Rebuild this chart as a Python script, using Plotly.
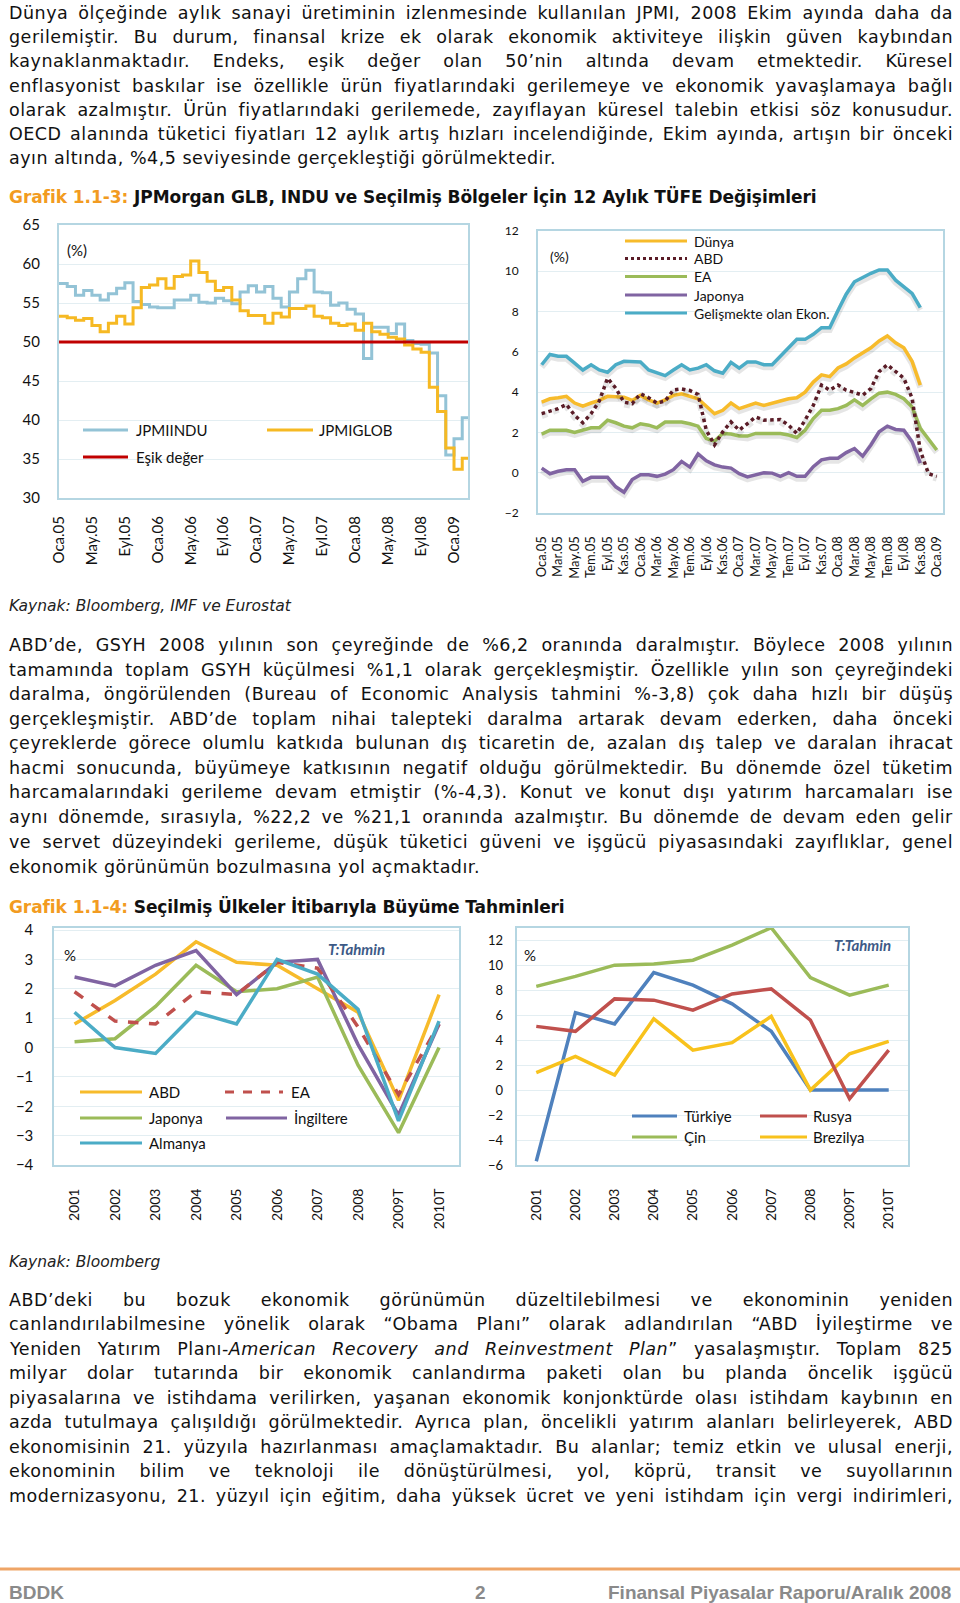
import json
import plotly.graph_objects as go

W, H = 960, 1603


def px(x):
    return x / W


def py(y):
    return 1 - y / H


# ---------------- Chart 1: JPMI (monthly, Oca.05 .. Şub.09) ----------------
jpmi_months = list(range(50))
jpmiindu = [57.5, 57.1, 56.0, 56.6, 56.0, 55.4, 56.2, 56.9, 57.6, 55.2,
            54.8, 54.5, 54.4, 54.4, 55.4, 55.4, 56.0, 55.1, 55.0, 55.6,
            55.3, 54.9, 56.4, 57.2, 56.4, 57.1, 55.6, 54.5, 56.4, 58.1,
            59.2, 56.4, 56.3, 54.7, 55.0, 54.2, 53.6, 47.9, 51.9, 51.9,
            51.1, 52.3, 50.2, 49.8, 49.7, 48.6, 43.1, 35.5, 37.6, 40.3]
jpmiglob = [53.3, 53.1, 52.8, 53.0, 52.1, 51.3, 52.4, 53.3, 52.3, 54.4,
            57.0, 57.3, 58.1, 56.9, 58.4, 58.6, 60.4, 58.9, 57.8, 56.6,
            57.0, 55.4, 54.0, 53.4, 53.4, 52.4, 53.7, 53.2, 54.3, 54.3,
            54.6, 53.3, 53.1, 52.4, 52.1, 52.3, 51.5, 52.4, 51.3, 51.0,
            50.6, 50.4, 49.6, 49.1, 48.7, 44.2, 41.1, 36.4, 33.7, 35.1]
esik_deger = 50
jpmi_x_end = 49.7
jpmi_tickvals = list(range(0, 49, 4))
jpmi_ticktext = ["Oca.05", "May.05", "Eyl.05", "Oca.06", "May.06", "Eyl.06",
                 "Oca.07", "May.07", "Eyl.07", "Oca.08", "May.08", "Eyl.08",
                 "Oca.09"]

# ---------------- Chart 2: 12 aylık TÜFE (monthly, Oca.05 .. Oca.09) --------
cpi_months = list(range(49))
cpi_dunya = [3.51, 3.67, 3.72, 3.79, 3.46, 3.30, 3.46, 3.59, 3.79, 3.79,
             3.75, 3.59, 3.84, 3.62, 3.46, 3.62, 3.84, 3.92, 3.79, 3.67,
             3.30, 2.93, 3.10, 3.46, 3.18, 3.34, 3.46, 3.34, 3.43, 3.56,
             3.67, 3.72, 4.00, 4.50, 4.86, 4.77, 5.20, 5.40, 5.70, 5.95,
             6.20, 6.54, 6.79, 6.45, 6.20, 5.53, 4.35]
cpi_abd = [2.93, 3.07, 3.18, 3.39, 2.85, 2.48, 2.93, 3.56, 4.69, 4.20,
           3.50, 3.43, 3.92, 3.72, 3.46, 3.56, 4.11, 4.16, 4.08, 3.89,
           2.11, 1.38, 2.03, 2.52, 2.11, 2.44, 2.77, 2.61, 2.64, 2.64,
           2.36, 1.95, 2.61, 3.34, 4.35, 4.10, 4.35, 4.10, 3.98, 3.85,
           4.18, 5.02, 5.36, 5.02, 4.69, 3.70, 1.10, -0.05, -0.18]
cpi_ea = [1.92, 2.11, 2.11, 2.11, 2.00, 2.11, 2.23, 2.23, 2.61, 2.48,
          2.31, 2.23, 2.43, 2.36, 2.23, 2.52, 2.52, 2.52, 2.43, 2.31,
          1.70, 1.57, 1.95, 1.92, 1.82, 1.82, 1.95, 1.95, 1.95, 1.95,
          1.87, 1.75, 2.11, 2.69, 3.10, 3.10, 3.18, 3.34, 3.62, 3.34,
          3.67, 3.95, 4.00, 3.89, 3.67, 3.26, 2.20, 1.66, 1.13]
cpi_japonya = [0.23, -0.05, 0.07, 0.15, 0.15, -0.43, -0.23, -0.23, -0.23, -0.70,
               -0.97, -0.34, -0.10, -0.10, -0.18, -0.07, 0.15, 0.56, 0.28, 0.93,
               0.59, 0.39, 0.28, 0.23, -0.05, -0.21, -0.10, 0.00, -0.02, -0.18,
               0.00, -0.18, -0.18, 0.30, 0.64, 0.72, 0.72, 1.00, 1.20, 0.82,
               1.38, 2.03, 2.31, 2.15, 2.11, 1.54, 0.48]
cpi_gelismekte = [5.36, 5.87, 5.78, 5.78, 5.44, 5.10, 5.36, 5.10, 4.99, 5.36,
                  5.53, 5.53, 5.50, 5.10, 4.94, 4.82, 5.10, 5.36, 5.10, 5.19,
                  5.36, 5.06, 4.94, 5.48, 5.19, 5.50, 5.50, 5.36, 5.36, 5.78,
                  6.20, 6.62, 6.62, 6.87, 7.20, 7.20, 8.05, 8.86, 9.48, 9.70,
                  9.90, 10.07, 10.07, 9.56, 9.23, 8.90, 8.20]
cpi_tickvals = list(range(0, 49, 2))
cpi_ticktext = ["Oca.05", "Mar.05", "May.05", "Tem.05", "Eyl.05", "Kas.05",
                "Oca.06", "Mar.06", "May.06", "Tem.06", "Eyl.06", "Kas.06",
                "Oca.07", "Mar.07", "May.07", "Tem.07", "Eyl.07", "Kas.07",
                "Oca.08", "Mar.08", "May.08", "Tem.08", "Eyl.08", "Kas.08",
                "Oca.09"]

# ---------------- Chart 3 & 4: Büyüme tahminleri ----------------
years = ["2001", "2002", "2003", "2004", "2005", "2006", "2007", "2008",
         "2009T", "2010T"]
g_abd = [0.8, 1.6, 2.5, 3.6, 2.9, 2.8, 2.0, 1.2, -1.8, 1.8]
g_ea = [1.9, 0.9, 0.8, 1.9, 1.8, 2.9, 2.7, 0.7, -1.6, 0.8]
g_japonya = [0.2, 0.3, 1.4, 2.8, 1.9, 2.0, 2.4, -0.6, -2.9, 0.0]
g_ingiltere = [2.4, 2.1, 2.8, 3.3, 1.8, 2.9, 3.0, 0.1, -2.3, 0.8]
g_almanya = [1.2, 0.0, -0.2, 1.2, 0.8, 3.0, 2.5, 1.3, -2.5, 0.9]

g_turkiye = [-5.7, 6.2, 5.3, 9.4, 8.4, 6.9, 4.7, 0.0, 0.0, 0.0]
g_rusya = [5.1, 4.7, 7.3, 7.2, 6.4, 7.7, 8.1, 5.6, -0.7, 3.2]
g_cin = [8.3, 9.1, 10.0, 10.1, 10.4, 11.6, 13.0, 9.0, 7.6, 8.4]
g_brezilya = [1.4, 2.7, 1.2, 5.7, 3.2, 3.8, 5.9, 0.0, 2.9, 3.9]

# ---------------- Colours ----------------
C_INDU = "#93C3D6"
C_GLOB = "#F6B923"
C_RED = "#C00000"
C_YEL = "#F7BB2B"
C_DOT = "#5A1C27"
C_GRN = "#9BBB59"
C_PUR = "#8064A2"
C_TEAL = "#4BACC6"
C_EA3 = "#C0504D"
C_BLUE = "#4F81BD"
C_RUS = "#C0504D"
C_BRZ = "#F8C21C"
BORDER = "#B5D6E2"
GRID = "#E3EEF2"
ORANGE = "#F29B21"

CHART_FONT = "Lato, Open Sans, sans-serif"
BODY_FONT = "DejaVu Sans, sans-serif"

fig = go.Figure()

fig.add_trace(go.Scatter(x=jpmi_months + [jpmi_x_end], y=jpmiindu + [jpmiindu[-1]],
                         mode="lines", line=dict(color=C_INDU, width=3, shape="hv"),
                         xaxis="x", yaxis="y", name="JPMIINDU"))
fig.add_trace(go.Scatter(x=jpmi_months + [jpmi_x_end], y=jpmiglob + [jpmiglob[-1]],
                         mode="lines", line=dict(color=C_GLOB, width=3, shape="hv"),
                         xaxis="x", yaxis="y", name="JPMIGLOB"))
fig.add_trace(go.Scatter(x=[jpmi_months[0], jpmi_x_end], y=[esik_deger, esik_deger],
                         mode="lines", line=dict(color=C_RED, width=3),
                         xaxis="x", yaxis="y", name="Eşik değer"))

for yv, col, dash, nm in [
    (cpi_gelismekte, C_TEAL, "solid", "Gelişmekte olan Ekon."),
    (cpi_dunya, C_YEL, "solid", "Dünya"),
    (cpi_ea, C_GRN, "solid", "EA"),
    (cpi_abd, C_DOT, "dot", "ABD"),
    (cpi_japonya, C_PUR, "solid", "Japonya"),
]:
    xs = cpi_months[:len(yv)]
    fig.add_trace(go.Scatter(x=xs, y=[v - 0.12 for v in yv], mode="lines",
                             line=dict(color="rgba(0,0,0,0.10)", width=6, dash=dash),
                             xaxis="x2", yaxis="y2", hoverinfo="skip"))
    fig.add_trace(go.Scatter(x=xs, y=yv, mode="lines",
                             line=dict(color=col, width=3.5, dash=dash),
                             xaxis="x2", yaxis="y2", name=nm))

for yv, col, dash, nm in [
    (g_abd, C_YEL, "solid", "ABD"),
    (g_japonya, C_GRN, "solid", "Japonya"),
    (g_ingiltere, C_PUR, "solid", "İngiltere"),
    (g_ea, C_EA3, "dash", "EA"),
    (g_almanya, C_TEAL, "solid", "Almanya"),
]:
    fig.add_trace(go.Scatter(x=years, y=yv, mode="lines",
                             line=dict(color=col, width=3.5, dash=dash),
                             xaxis="x3", yaxis="y3", name=nm))

for yv, col, nm in [
    (g_cin, C_GRN, "Çin"),
    (g_turkiye, C_BLUE, "Türkiye"),
    (g_brezilya, C_BRZ, "Brezilya"),
    (g_rusya, C_RUS, "Rusya"),
]:
    fig.add_trace(go.Scatter(x=years, y=yv, mode="lines",
                             line=dict(color=col, width=3.5),
                             xaxis="x4", yaxis="y4", name=nm))


def xax(x0, x1, anchor, rng, standoff, size, **kw):
    d = dict(domain=[px(x0), px(x1)], anchor=anchor, range=rng,
             showgrid=False, zeroline=False, showline=True, linecolor=BORDER,
             linewidth=2, mirror=True, ticks="outside", ticklen=standoff,
             tickcolor="rgba(0,0,0,0)", tickangle=-90, automargin=False,
             tickfont=dict(family=CHART_FONT, size=size, color="#111"),
             fixedrange=True)
    d.update(kw)
    return d


def yax(y0, y1, anchor, rng, dtick, tick0, standoff, size):
    return dict(domain=[py(y1), py(y0)], anchor=anchor, range=rng,
                dtick=dtick, tick0=tick0, showgrid=True, gridcolor=GRID,
                gridwidth=1, zeroline=False, showline=True, linecolor=BORDER,
                linewidth=2, mirror=True, ticks="outside", ticklen=standoff,
                tickcolor="rgba(0,0,0,0)", automargin=False,
                tickfont=dict(family=CHART_FONT, size=size, color="#111"),
                fixedrange=True)


fig.update_layout(
    width=W, height=H,
    margin=dict(l=0, r=0, t=0, b=0, pad=0, autoexpand=False),
    paper_bgcolor="white", plot_bgcolor="white", showlegend=False,
    font=dict(family=CHART_FONT, color="#111"),
    xaxis=xax(59, 468, "y", [0, jpmi_x_end], 10, 15,
              tickmode="array", tickvals=jpmi_tickvals, ticktext=jpmi_ticktext),
    yaxis=yax(225, 498, "x", [30, 65], 5, 30, 14, 15),
    xaxis2=xax(538, 943, "y2", [-0.45, 48.76], 16, 13,
               tickmode="array", tickvals=cpi_tickvals, ticktext=cpi_ticktext),
    yaxis2=yax(231, 513, "x2", [-2, 12], 2, 0, 15, 12),
    xaxis3=xax(54.3, 459.3, "y3", [-0.5, 9.5], 16, 14, type="category"),
    yaxis3=yax(928, 1165, "x3", [-4, 4.07], 1, 0, 16, 15),
    xaxis4=xax(516.7, 908.3, "y4", [-0.5, 9.5], 16, 14, type="category"),
    yaxis4=yax(927.7, 1165, "x4", [-6, 13], 2, 0, 9, 13),
)

annotations = []
justify = {}
spread = {}


def text(x, y, s, size=15, color="#111", family=CHART_FONT, xanchor="left",
         just=None, ls=None):
    idx = len(annotations)
    annotations.append(dict(x=px(x), y=py(y), xref="paper", yref="paper",
                            text=s, showarrow=False, xanchor=xanchor,
                            yanchor="middle", align=xanchor if xanchor != "center" else "center",
                            font=dict(size=size, color=color, family=family)))
    if just:
        justify[str(idx)] = just
    if ls:
        spread[str(idx)] = ls


shapes = []


def leg_line(x0, x1, y, color, dash="solid", width=3):
    shapes.append(dict(type="line", xref="paper", yref="paper",
                       x0=px(x0), x1=px(x1), y0=py(y), y1=py(y),
                       line=dict(color=color, width=width, dash=dash)))


para1 = [
    "Dünya ölçeğinde aylık sanayi üretiminin izlenmesinde kullanılan JPMI, 2008 Ekim ayında daha da",
    "gerilemiştir. Bu durum, finansal krize ek olarak ekonomik aktiviteye ilişkin güven kaybından",
    "kaynaklanmaktadır. Endeks, eşik değer olan 50’nin altında devam etmektedir. Küresel",
    "enflasyonist baskılar ise özellikle ürün fiyatlarındaki gerilemeye ve ekonomik yavaşlamaya bağlı",
    "olarak azalmıştır. Ürün fiyatlarındaki gerilemede, zayıflayan küresel talebin etkisi söz konusudur.",
    "OECD alanında tüketici fiyatları 12 aylık artış hızları incelendiğinde, Ekim ayında, artışın bir önceki",
    "ayın altında, %4,5 seviyesinde gerçekleştiği görülmektedir.",
]
para1_y = [12.5, 37, 61.5, 85.5, 110, 134.5, 158.5]

para2 = [
    "ABD’de, GSYH 2008 yılının son çeyreğinde de %6,2 oranında daralmıştır. Böylece 2008 yılının",
    "tamamında toplam GSYH küçülmesi %1,1 olarak gerçekleşmiştir. Özellikle yılın son çeyreğindeki",
    "daralma, öngörülenden (Bureau of Economic Analysis tahmini %-3,8) çok daha hızlı bir düşüş",
    "gerçekleşmiştir. ABD’de toplam nihai talepteki daralma artarak devam ederken, daha önceki",
    "çeyreklerde görece olumlu katkıda bulunan dış ticaretin de, azalan dış talep ve daralan ihracat",
    "hacmi sonucunda, büyümeye katkısının negatif olduğu görülmektedir. Bu dönemde özel tüketim",
    "harcamalarındaki gerileme devam etmiştir (%-4,3). Konut ve konut dışı yatırım harcamaları ise",
    "aynı dönemde, sırasıyla, %22,2 ve %21,1 oranında azalmıştır. Bu dönemde de devam eden gelir",
    "ve servet düzeyindeki gerileme, düşük tüketici güveni ve işgücü piyasasındaki zayıflıklar, genel",
    "ekonomik görünümün bozulmasına yol açmaktadır.",
]
para2_y = [645, 669.5, 694, 718.5, 743, 767.5, 792, 817, 842, 866.5]

para3 = [
    "ABD’deki bu bozuk ekonomik görünümün düzeltilebilmesi ve ekonominin yeniden",
    "canlandırılabilmesine yönelik olarak “Obama Planı” olarak adlandırılan “ABD İyileştirme ve",
    "Yeniden Yatırım Planı-<i>American Recovery and Reinvestment Plan</i>” yasalaşmıştır. Toplam 825",
    "milyar dolar tutarında bir ekonomik canlandırma paketi olan bu planda öncelik işgücü",
    "piyasalarına ve istihdama verilirken, yaşanan ekonomik konjonktürde olası istihdam kaybının en",
    "azda tutulmaya çalışıldığı görülmektedir. Ayrıca plan, öncelikli yatırım alanları belirleyerek, ABD",
    "ekonomisinin 21. yüzyıla hazırlanması amaçlamaktadır. Bu alanlar; temiz etkin ve ulusal enerji,",
    "ekonominin bilim ve teknoloji ile dönüştürülmesi, yol, köprü, transit ve suyollarının",
    "modernizasyonu, 21. yüzyıl için eğitim, daha yüksek ücret ve yeni istihdam için vergi indirimleri,",
]
para3_y = [1299.5, 1324, 1348.5, 1373, 1397.5, 1422, 1446.5, 1471, 1495.5]

BODY_SIZE = 17.5
BODY_LS = 0.5
LINE_W = 944
for lines, ys in [(para1, para1_y), (para2, para2_y)]:
    for i, (s, y) in enumerate(zip(lines, ys)):
        text(7, y, s, size=BODY_SIZE, color="#111111", family=BODY_FONT,
             just=LINE_W if i < len(lines) - 1 else None, ls=BODY_LS)
for s, y in zip(para3, para3_y):
    text(7, y, s, size=BODY_SIZE, color="#111111", family=BODY_FONT,
         just=LINE_W, ls=BODY_LS)

text(7, 197, "<b><span style='color:%s'>Grafik 1.1-3:</span> JPMorgan GLB, INDU ve Seçilmiş Bölgeler İçin 12 Aylık TÜFE Değişimleri</b>" % ORANGE,
     size=17, color="#111", family=BODY_FONT, just=807)
text(7, 906, "<b><span style='color:%s'>Grafik 1.1-4:</span> Seçilmiş Ülkeler İtibarıyla Büyüme Tahminleri</b>" % ORANGE,
     size=17, color="#111", family=BODY_FONT, just=555)

text(7, 606, "<i>Kaynak: Bloomberg, IMF ve Eurostat</i>", size=15.5, color="#222", family=BODY_FONT)
text(7, 1261.5, "<i>Kaynak: Bloomberg</i>", size=15.5, color="#222", family=BODY_FONT)

text(77, 250, "(%)", size=15, xanchor="center")
leg_line(83, 128, 430, C_INDU)
text(134, 430, "JPMIINDU", size=15)
leg_line(267, 313, 430, C_GLOB)
text(317, 430, "JPMIGLOB", size=15)
leg_line(83, 128, 457, C_RED)
text(134, 457, "Eşik değer", size=15)

text(559, 257, "(%)", size=14, xanchor="center")
c2_leg = [("Dünya", C_YEL, "solid", 241), ("ABD", C_DOT, "dot", 258.5),
          ("EA", C_GRN, "solid", 276.5), ("Japonya", C_PUR, "solid", 295),
          ("Gelişmekte olan Ekon.", C_TEAL, "solid", 313)]
for nm, col, dash, y in c2_leg:
    leg_line(625, 687, y, col, dash=dash)
    text(692, y, nm, size=14)

text(70, 955, "%", size=15, xanchor="center")
text(356, 949, "<b><i>T:Tahmin</i></b>", size=15, color="#3D5A86", xanchor="center")
leg_line(80, 142, 1092, C_YEL)
text(147, 1092, "ABD", size=15)
leg_line(225, 283, 1092, C_EA3, dash="dash")
text(289, 1092, "EA", size=15)
leg_line(80, 142, 1118, C_GRN)
text(147, 1118, "Japonya", size=15)
leg_line(226, 287, 1118, C_PUR)
text(292, 1118, "İngiltere", size=15)
leg_line(80, 142, 1143, C_TEAL)
text(147, 1143, "Almanya", size=15)

text(530, 955, "%", size=15, xanchor="center")
text(862, 945, "<b><i>T:Tahmin</i></b>", size=15, color="#3D5A86", xanchor="center")
leg_line(632, 677, 1116, C_BLUE)
text(682, 1116, "Türkiye", size=15)
leg_line(760, 807, 1116, C_RUS)
text(811, 1116, "Rusya", size=15)
leg_line(632, 677, 1137, C_GRN)
text(682, 1137, "Çin", size=15)
leg_line(760, 807, 1137, C_BRZ)
text(811, 1137, "Brezilya", size=15)

shapes.append(dict(type="line", xref="paper", yref="paper", x0=0, x1=1,
                   y0=py(1569), y1=py(1569), line=dict(color="#EFA567", width=3)))
FOOT = "Liberation Sans Narrow, Liberation Sans, Arial, sans-serif"
text(7, 1592, "<b>BDDK</b>", size=19, color="#8A8A8A", family=FOOT)
text(480, 1592, "<b>2</b>", size=19, color="#8A8A8A", family=FOOT, xanchor="center")
text(953, 1592, "<b>Finansal Piyasalar Raporu/Aralık 2008</b>", size=19, color="#8A8A8A",
     family=FOOT, xanchor="right")

fig.update_layout(annotations=annotations, shapes=shapes)

js = """
document.documentElement.style.margin = '0';
document.documentElement.style.padding = '0';
document.documentElement.style.overflow = 'hidden';
document.body.style.margin = '0';
document.body.style.padding = '0';
document.body.style.overflow = 'hidden';
var gd = document.getElementById('{plot_id}');
var J = %s;
var LS = %s;
function doJustify(){
  gd.querySelectorAll('g.annotation').forEach(function(g){
    var i = g.getAttribute('data-index');
    if (!(i in J) && !(i in LS)) return;
    var t = g.querySelector('text.annotation-text');
    if (!t) return;
    var txt = t.textContent;
    var s = (txt.match(/ /g) || []).length;
    t.style.wordSpacing = '0px';
    t.style.letterSpacing = (i in LS ? LS[i] : 0) + 'px';
    if (!(i in J)) return;
    var L = t.getBBox().width;
    var extra = J[i] - L;
    if (extra < 0) {
      var cur = (i in LS ? LS[i] : 0);
      t.style.letterSpacing = (cur + extra / txt.length) + 'px';
    } else if (s > 0) {
      var ws = extra / s;
      t.style.wordSpacing = ws + 'px';
      var L2 = t.getBBox().width;
      ws += (J[i] - L2) / s;
      t.style.wordSpacing = ws + 'px';
    }
  });
}
doJustify();
""" % (json.dumps(justify), json.dumps(spread))

fig.write_html("out.html", post_script=js, config={"displayModeBar": False})
